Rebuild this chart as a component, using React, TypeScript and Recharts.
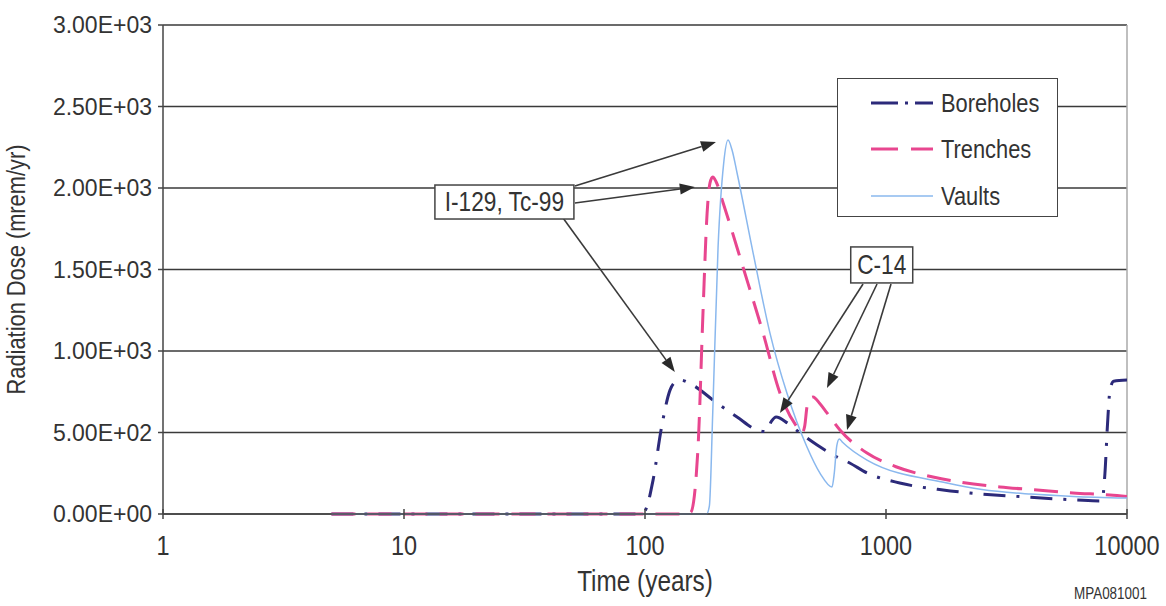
import React from 'react';
import {
  LineChart, Line, XAxis, YAxis, CartesianGrid, ReferenceLine, ReferenceDot, Label,
} from 'recharts';

// time in years, dose in mrem/yr
const boreholes = [
  { t: 5, dose: 0 }, { t: 95, dose: 0 }, { t: 100, dose: 20 }, { t: 108, dose: 208 },
  { t: 117, dose: 528 }, { t: 127, dose: 760 }, { t: 134, dose: 812 }, { t: 140, dose: 822 },
  { t: 158, dose: 790 }, { t: 195, dose: 690 }, { t: 241, dose: 595 }, { t: 292, dose: 515 },
  { t: 318, dose: 505 }, { t: 335, dose: 570 }, { t: 350, dose: 595 }, { t: 390, dose: 558 },
  { t: 440, dose: 497 }, { t: 518, dose: 423 }, { t: 626, dose: 350 }, { t: 707, dose: 313 },
  { t: 834, dose: 252 }, { t: 1140, dose: 190 }, { t: 1725, dose: 147 }, { t: 2230, dose: 129 },
  { t: 3850, dose: 104 }, { t: 6170, dose: 86 }, { t: 7870, dose: 80 }, { t: 8100, dose: 250 },
  { t: 8300, dose: 550 }, { t: 8500, dose: 760 }, { t: 8800, dose: 815 }, { t: 10000, dose: 822 },
];

const trenches = [
  { t: 5, dose: 0 }, { t: 150, dose: 0 }, { t: 155, dose: 10 }, { t: 166, dose: 411 },
  { t: 174, dose: 1233 }, { t: 181, dose: 1846 }, { t: 186, dose: 2030 }, { t: 191, dose: 2067 },
  { t: 197, dose: 2040 }, { t: 211, dose: 1908 }, { t: 255, dose: 1515 }, { t: 309, dose: 1110 },
  { t: 363, dose: 742 }, { t: 427, dose: 534 }, { t: 448, dose: 497 }, { t: 460, dose: 540 },
  { t: 470, dose: 656 }, { t: 485, dose: 710 }, { t: 498, dose: 718 }, { t: 530, dose: 680 },
  { t: 569, dose: 620 }, { t: 644, dose: 515 }, { t: 834, dose: 374 }, { t: 1100, dose: 290 },
  { t: 1567, dose: 227 }, { t: 2030, dose: 196 }, { t: 2970, dose: 166 }, { t: 4240, dose: 147 },
  { t: 5970, dose: 129 }, { t: 8500, dose: 117 }, { t: 10000, dose: 108 },
];

const vaults = [
  { t: 5, dose: 0 }, { t: 180, dose: 0 }, { t: 185, dose: 50 }, { t: 191, dose: 620 },
  { t: 201, dose: 1638 }, { t: 212, dose: 2150 }, { t: 221, dose: 2294 }, { t: 230, dose: 2230 },
  { t: 241, dose: 2092 }, { t: 281, dose: 1601 }, { t: 330, dose: 1110 }, { t: 388, dose: 742 },
  { t: 470, dose: 411 }, { t: 532, dose: 251 }, { t: 597, dose: 166 }, { t: 610, dose: 250 },
  { t: 625, dose: 420 }, { t: 640, dose: 460 }, { t: 660, dose: 440 }, { t: 834, dose: 331 },
  { t: 1790, dose: 190 }, { t: 2500, dose: 150 }, { t: 4000, dose: 122 }, { t: 6000, dose: 108 },
  { t: 10000, dose: 98 },
];

const xTicks = [1, 10, 100, 1000, 10000];
const yTicks = [0, 500, 1000, 1500, 2000, 2500, 3000];

const series = [
  { name: 'Boreholes', data: boreholes, color: '#2c2a7a', width: 3, dash: '22 11 3 11', key: '27 7 3 7' },
  { name: 'Trenches', data: trenches, color: '#e8468f', width: 3, dash: '24 12', key: '27 13' },
  { name: 'Vaults', data: vaults, color: '#8ab8ee', width: 1.5, dash: undefined, key: undefined },
];

// annotation boxes (data coords of the box centre) and arrows
const boxes = [
  { text: 'I-129, Tc-99', t: 26.1, dose: 1914, w: 139, h: 34 },
  { text: 'C-14', t: 960, dose: 1528, w: 62, h: 36 },
];

const arrows = [
  { from: { t: 51.2, dose: 2012 }, to: { t: 197, dose: 2282 } },
  { from: { t: 51.2, dose: 1908 }, to: { t: 161, dose: 2006 } },
  { from: { t: 45.7, dose: 1816 }, to: { t: 133, dose: 871 } },
  { from: { t: 803, dose: 1411 }, to: { t: 363, dose: 620 } },
  { from: { t: 918, dose: 1411 }, to: { t: 569, dose: 773 } },
  { from: { t: 1049, dose: 1411 }, to: { t: 689, dose: 515 } },
];

const FONT = '"Liberation Sans", Arial, sans-serif';
const INK = '#333';
const SQUEEZE = 0.84; // the original uses a condensed face

const sci = (v: number) => {
  if (v === 0) return '0.00E+00';
  const e = Math.floor(Math.log10(v));
  const m = v / Math.pow(10, e);
  return `${m.toFixed(2)}E+${String(e).padStart(2, '0')}`;
};

// condensed text: regular font squeezed horizontally
const CText = ({ x, y, size, anchor = 'start', rotate = false, squeeze = SQUEEZE, children }: any) => (
  <text
    transform={`translate(${x},${y})${rotate ? ' rotate(-90)' : ''} scale(${squeeze},1)`}
    textAnchor={anchor} fontSize={size} fontFamily={FONT} fill={INK}
  >
    {children}
  </text>
);

const XTick = (props: any) => {
  const { x, y, payload } = props;
  return (
    <g>
      <line x1={x} x2={x} y1={y - 5} y2={y + 5} stroke="#444" strokeWidth={1.5} />
      <CText x={x} y={y + 41} size={28} anchor="middle">{payload.value}</CText>
    </g>
  );
};

const YTick = (props: any) => {
  const { x, y, payload } = props;
  return <CText x={x} y={y + 8} size={23} squeeze={1} anchor="end">{sci(payload.value)}</CText>;
};

const Arrow = (props: any) => {
  const { x1, y1, x2, y2 } = props;
  if ([x1, y1, x2, y2].some((v) => v == null || isNaN(v))) return null;
  const ang = Math.atan2(y2 - y1, x2 - x1);
  const len = 15;
  const half = 5.5;
  const bx = x2 - len * Math.cos(ang);
  const by = y2 - len * Math.sin(ang);
  const px = -Math.sin(ang) * half;
  const py = Math.cos(ang) * half;
  return (
    <g>
      <line x1={x1} y1={y1} x2={bx} y2={by} stroke="#3a3a3a" strokeWidth={1.6} />
      <polygon points={`${x2},${y2} ${bx + px},${by + py} ${bx - px},${by - py}`} fill="#2a2a2a" />
    </g>
  );
};

const makeBox = (text: string, w: number, h: number) => (props: any) => {
  const { cx, cy } = props;
  return (
    <g>
      <rect x={cx - w / 2} y={cy - h / 2} width={w} height={h} fill="#fff" stroke="#444" strokeWidth={1.5} />
      <CText x={cx} y={cy + 9} size={27} anchor="middle">{text}</CText>
    </g>
  );
};

const LegendBox = () => (
  <div
    style={{
      position: 'absolute', left: 837, top: 78, width: 221, height: 139,
      border: '1.5px solid #444', background: '#fff', boxSizing: 'border-box',
    }}
  >
    <svg width={221} height={139} style={{ display: 'block' }}>
      {series.map((s, i) => {
        const cy = [24, 70, 117][i];
        return (
          <g key={s.name}>
            <line x1={33} x2={95} y1={cy} y2={cy} stroke={s.color} strokeWidth={s.width} strokeDasharray={s.key} />
            <CText x={103} y={cy + 9} size={26}>{s.name}</CText>
          </g>
        );
      })}
    </svg>
  </div>
);

export default function App() {
  return (
    <div style={{ position: 'absolute', left: 0, top: 0, width: 1166, height: 606, background: '#fff' }}>
      <LineChart width={1166} height={606} margin={{ top: 25, right: 39, left: 0, bottom: 0 }}>
        <CartesianGrid vertical={false} stroke="#3a3a3a" strokeWidth={1.5} />
        <XAxis
          dataKey="t" type="number" scale="log" domain={[1, 10000]} ticks={xTicks}
          allowDataOverflow height={92} tickLine={false} tickSize={0} tickMargin={0}
          axisLine={{ stroke: '#444', strokeWidth: 1.5 }} tick={<XTick />} interval={0}
        >
          <Label
            content={(p: any) => {
              const vb = p.viewBox || {};
              return <CText x={vb.x + vb.width / 2} y={vb.y + 77} size={29} anchor="middle">Time (years)</CText>;
            }}
          />
        </XAxis>
        <YAxis
          type="number" domain={[0, 3000]} ticks={yTicks} width={163}
          tickSize={5} tickMargin={6} interval={0}
          axisLine={{ stroke: '#444', strokeWidth: 1.5 }} tickLine={{ stroke: '#444', strokeWidth: 1.5 }}
          tick={<YTick />}
        >
          <Label
            content={(p: any) => {
              const vb = p.viewBox || {};
              const cy = vb.y + vb.height / 2;
              return <CText x={25} y={cy} size={26} anchor="middle" rotate>Radiation Dose (mrem/yr)</CText>;
            }}
          />
        </YAxis>
        <ReferenceLine x={10000} stroke="#aaa" strokeWidth={1.5} />
        {series.map((s) => (
          <Line
            key={s.name} data={s.data} dataKey="dose" name={s.name} type="monotone"
            stroke={s.color} strokeWidth={s.width} strokeDasharray={s.dash}
            dot={false} activeDot={false} isAnimationActive={false}
          />
        ))}
        {arrows.map((a, i) => (
          <ReferenceLine
            key={`a${i}`}
            segment={[{ x: a.from.t, y: a.from.dose }, { x: a.to.t, y: a.to.dose }]}
            shape={<Arrow />}
          />
        ))}
        {boxes.map((b) => (
          <ReferenceDot key={b.text} x={b.t} y={b.dose} r={1} shape={makeBox(b.text, b.w, b.h)} />
        ))}
      </LineChart>
      <LegendBox />
      <div
        style={{
          position: 'absolute', left: 1074, top: 585, fontSize: 16, fontFamily: FONT, color: INK,
          transform: `scaleX(${SQUEEZE})`, transformOrigin: 'left top', whiteSpace: 'nowrap',
        }}
      >
        MPA081001
      </div>
    </div>
  );
}
